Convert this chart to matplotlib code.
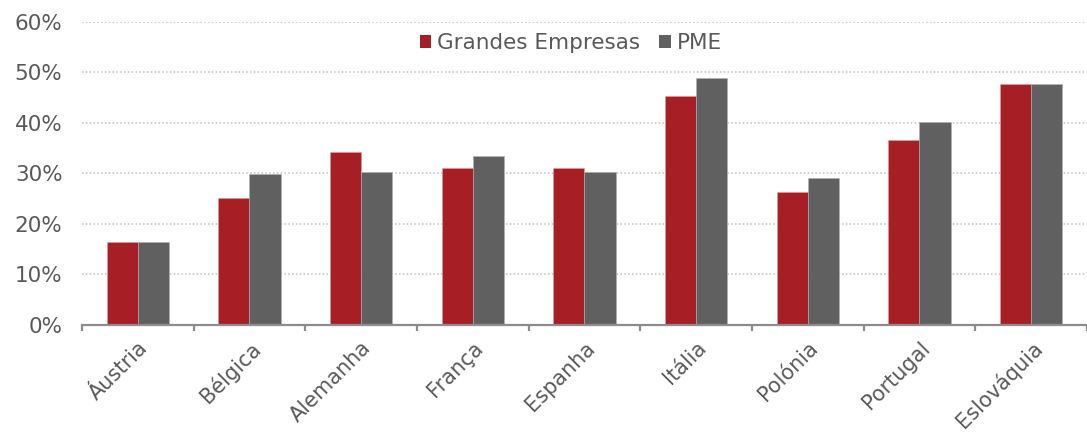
import matplotlib.pyplot as plt
import numpy as np
from matplotlib.patches import Patch
from matplotlib.ticker import PercentFormatter, FixedLocator

countries = ["Áustria", "Bélgica", "Alemanha", "França", "Espanha",
             "Itália", "Polónia", "Portugal", "Eslováquia"]
grandes = [16.4, 25.1, 34.3, 31.1, 31.1, 45.3, 26.3, 36.6, 47.7]
pme = [16.4, 29.9, 30.3, 33.5, 30.3, 48.9, 29.1, 40.2, 47.7]

RED = "#A71E24"
GREY = "#5F605F"
TEXT = "#595959"

plt.rcParams["font.family"] = "DejaVu Sans"

fig = plt.figure(figsize=(10.87, 4.34), dpi=100)
ax = fig.add_axes([0.0754, 0.2512, 0.9246, 0.6981])

x = np.arange(len(countries))
w = 0.28
ax.bar(x - w / 2, grandes, w, color=RED, edgecolor="#d9a0a2", linewidth=0.4, zorder=3)
ax.bar(x + w / 2, pme, w, color=GREY, edgecolor="#b0b0b0", linewidth=0.4, zorder=3)

ax.set_ylim(0, 60)
ax.set_xlim(-0.5, 8.37)
ax.yaxis.set_major_locator(FixedLocator(np.arange(0, 61, 10)))
ax.yaxis.set_major_formatter(PercentFormatter(decimals=0))
ax.grid(axis="y", color="#bfbfbf", linestyle=(0, (1, 1.5)), linewidth=1.1, zorder=0)

for side in ["left", "right", "top"]:
    ax.spines[side].set_visible(False)
ax.spines["bottom"].set_color("#8c8c8c")
ax.spines["bottom"].set_linewidth(1.6)
ax.spines["bottom"].set_zorder(4)

ax.set_xticks(x)
ax.set_xticklabels(countries, rotation=45, ha="right", va="top",
                   rotation_mode="anchor", fontsize=15, color=TEXT)
ax.set_xticks(np.arange(-0.5, 9, 1), minor=True)
ax.tick_params(axis="x", which="major", length=0, pad=9)
ax.tick_params(axis="x", which="minor", length=4, width=1.6, color="#8c8c8c")
ax.tick_params(axis="y", length=0, labelsize=15.5, labelcolor=TEXT, pad=14)

handles = [Patch(facecolor=RED, label="Grandes Empresas"),
           Patch(facecolor=GREY, label="PME")]
leg = fig.legend(handles=handles, loc="center", bbox_to_anchor=(0.525, 0.901),
                 ncol=2, frameon=False, fontsize=15.5, handlelength=0.55,
                 handleheight=0.55, handletextpad=0.25, columnspacing=0.9)
for t in leg.get_texts():
    t.set_color(TEXT)

fig.savefig("out.png", dpi=100)
